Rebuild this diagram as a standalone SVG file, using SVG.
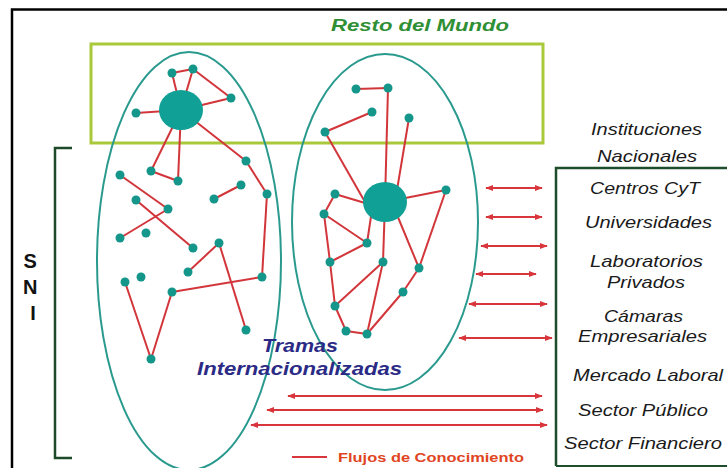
<svg xmlns="http://www.w3.org/2000/svg" width="727" height="468" viewBox="0 0 727 468">
<defs>
<marker id="ah" viewBox="0 0 10 10" refX="9" refY="5" markerWidth="4" markerHeight="4" orient="auto-start-reverse">
<path d="M0,1 L10,5 L0,9 z" fill="#d8363c"/>
</marker>
<style>
.edge{stroke:#d2363b;stroke-width:2;fill:none}
.dot{fill:#14968a}
.hub{fill:#11a096}
.flow{stroke:#d8363c;stroke-width:2;fill:none;marker-start:url(#ah);marker-end:url(#ah)}
.lbl{font-family:"Liberation Sans",Arial,sans-serif;font-style:italic;font-size:17px;fill:#1a1a1a;text-anchor:start}
.ell{fill:none;stroke:#2a9a8e;stroke-width:2}
</style>
</defs>
<rect width="727" height="468" fill="#fff"/>
<!-- frame -->
<path d="M12,468 V9.5 H727" fill="none" stroke="#000" stroke-width="2.5"/>

<g id="resto-del-mundo">
<rect x="91" y="44" width="452" height="99" fill="none" stroke="#a9c93a" stroke-width="3"/>
<text x="331" y="31" font-family="Liberation Sans, Arial, sans-serif" font-size="16" font-weight="bold" font-style="italic" fill="#2f8f34" textLength="178" lengthAdjust="spacingAndGlyphs">Resto del Mundo</text>
</g>

<g id="sni">
<path d="M72,148 H55 V458 H72" fill="none" stroke="#1f4a2a" stroke-width="2.5"/>
<text font-family="Liberation Sans, Arial, sans-serif" font-size="20" font-weight="bold" fill="#111" text-anchor="middle">
<tspan x="33" y="268">S</tspan>
<tspan x="33" y="294">N</tspan>
<tspan x="33" y="320">I</tspan>
</text>
</g>

<g id="trama-1">
<ellipse class="ell" cx="189" cy="261" rx="92" ry="209"/>
</g>
<g id="trama-2">
<ellipse class="ell" cx="385" cy="222" rx="93" ry="168"/>
</g>

<g id="connectors">
<!-- left network -->
<line class="edge" x1="172" y1="73" x2="193" y2="69"/>
<line class="edge" x1="172" y1="73" x2="181" y2="110"/>
<line class="edge" x1="136" y1="113" x2="181" y2="110"/>
<line class="edge" x1="193" y1="69" x2="181" y2="110"/>
<line class="edge" x1="193" y1="69" x2="231" y2="98"/>
<line class="edge" x1="231" y1="98" x2="181" y2="110"/>
<line class="edge" x1="181" y1="110" x2="151" y2="171"/>
<line class="edge" x1="151" y1="171" x2="178" y2="181"/>
<line class="edge" x1="178" y1="181" x2="181" y2="110"/>
<line class="edge" x1="181" y1="110" x2="246" y2="161"/>
<line class="edge" x1="246" y1="161" x2="267" y2="194"/>
<line class="edge" x1="267" y1="194" x2="262" y2="277"/>
<line class="edge" x1="241" y1="185" x2="214" y2="199"/>
<line class="edge" x1="120" y1="175" x2="168" y2="209"/>
<line class="edge" x1="136" y1="200" x2="193" y2="248"/>
<line class="edge" x1="120" y1="238" x2="168" y2="209"/>
<line class="edge" x1="188" y1="272" x2="219" y2="243"/>
<line class="edge" x1="219" y1="243" x2="246" y2="330"/>
<line class="edge" x1="262" y1="277" x2="172" y2="292"/>
<line class="edge" x1="125" y1="282" x2="151" y2="359"/>
<line class="edge" x1="151" y1="359" x2="172" y2="292"/>
<!-- right network -->
<line class="edge" x1="356" y1="89" x2="388" y2="88"/>
<line class="edge" x1="388" y1="88" x2="385" y2="202"/>
<line class="edge" x1="372" y1="112" x2="325" y2="132"/>
<line class="edge" x1="325" y1="132" x2="365" y2="202"/>
<line class="edge" x1="409" y1="118" x2="395" y2="202"/>
<line class="edge" x1="335" y1="194" x2="365" y2="203"/>
<line class="edge" x1="335" y1="194" x2="324" y2="214"/>
<line class="edge" x1="324" y1="214" x2="367" y2="243"/>
<line class="edge" x1="367" y1="243" x2="372" y2="210"/>
<line class="edge" x1="324" y1="214" x2="330" y2="262"/>
<line class="edge" x1="330" y1="262" x2="367" y2="243"/>
<line class="edge" x1="383" y1="262" x2="385" y2="202"/>
<line class="edge" x1="446" y1="190" x2="385" y2="202"/>
<line class="edge" x1="446" y1="190" x2="419" y2="268"/>
<line class="edge" x1="419" y1="268" x2="395" y2="210"/>
<line class="edge" x1="419" y1="268" x2="403" y2="292"/>
<line class="edge" x1="330" y1="262" x2="335" y2="306"/>
<line class="edge" x1="335" y1="306" x2="383" y2="262"/>
<line class="edge" x1="335" y1="306" x2="346" y2="331"/>
<line class="edge" x1="346" y1="331" x2="367" y2="334"/>
<line class="edge" x1="367" y1="334" x2="383" y2="262"/>
<line class="edge" x1="367" y1="334" x2="403" y2="292"/>
<!-- flows -->
<line class="flow" x1="486" y1="188" x2="542" y2="188"/>
<line class="flow" x1="486" y1="217" x2="542" y2="217"/>
<line class="flow" x1="481" y1="246" x2="547" y2="246"/>
<line class="flow" x1="476" y1="274" x2="536" y2="274"/>
<line class="flow" x1="469" y1="304" x2="547" y2="304"/>
<line class="flow" x1="459" y1="338" x2="552" y2="338"/>
<line class="flow" x1="288" y1="396" x2="542" y2="396"/>
<line class="flow" x1="267" y1="410" x2="543" y2="410"/>
<line class="flow" x1="251" y1="425" x2="547" y2="425"/>
</g>

<g id="nodes-left">
<ellipse id="hub-left" class="hub" cx="181" cy="110" rx="22" ry="20"/>
<circle class="dot" cx="172" cy="73" r="4.5"/>
<circle class="dot" cx="193" cy="69" r="4.5"/>
<circle class="dot" cx="231" cy="98" r="4.5"/>
<circle class="dot" cx="136" cy="113" r="4.5"/>
<circle class="dot" cx="151" cy="171" r="4.5"/>
<circle class="dot" cx="178" cy="181" r="4.5"/>
<circle class="dot" cx="246" cy="161" r="4.5"/>
<circle class="dot" cx="120" cy="175" r="4.5"/>
<circle class="dot" cx="241" cy="185" r="4.5"/>
<circle class="dot" cx="267" cy="194" r="4.5"/>
<circle class="dot" cx="214" cy="199" r="4.5"/>
<circle class="dot" cx="136" cy="200" r="4.5"/>
<circle class="dot" cx="168" cy="209" r="4.5"/>
<circle class="dot" cx="193" cy="248" r="4.5"/>
<circle class="dot" cx="120" cy="238" r="4.5"/>
<circle class="dot" cx="146" cy="233" r="4.5"/>
<circle class="dot" cx="219" cy="243" r="4.5"/>
<circle class="dot" cx="188" cy="272" r="4.5"/>
<circle class="dot" cx="246" cy="330" r="4.5"/>
<circle class="dot" cx="262" cy="277" r="4.5"/>
<circle class="dot" cx="172" cy="292" r="4.5"/>
<circle class="dot" cx="125" cy="282" r="4.5"/>
<circle class="dot" cx="141" cy="277" r="4.5"/>
<circle class="dot" cx="151" cy="359" r="4.5"/>
</g>

<g id="nodes-right">
<ellipse id="hub-right" class="hub" cx="385" cy="202" rx="22" ry="20"/>
<circle class="dot" cx="356" cy="89" r="4.5"/>
<circle class="dot" cx="388" cy="88" r="4.5"/>
<circle class="dot" cx="372" cy="112" r="4.5"/>
<circle class="dot" cx="325" cy="132" r="4.5"/>
<circle class="dot" cx="409" cy="118" r="4.5"/>
<circle class="dot" cx="335" cy="194" r="4.5"/>
<circle class="dot" cx="446" cy="190" r="4.5"/>
<circle class="dot" cx="324" cy="214" r="4.5"/>
<circle class="dot" cx="367" cy="243" r="4.5"/>
<circle class="dot" cx="330" cy="262" r="4.5"/>
<circle class="dot" cx="383" cy="262" r="4.5"/>
<circle class="dot" cx="419" cy="268" r="4.5"/>
<circle class="dot" cx="403" cy="292" r="4.5"/>
<circle class="dot" cx="335" cy="306" r="4.5"/>
<circle class="dot" cx="346" cy="331" r="4.5"/>
<circle class="dot" cx="367" cy="334" r="4.5"/>
</g>

<g id="tramas-label">
<text font-family="Liberation Sans, Arial, sans-serif" font-size="18" font-weight="bold" font-style="italic" fill="#2b2b86">
<tspan x="262" y="352" textLength="76" lengthAdjust="spacingAndGlyphs">Tramas</tspan>
<tspan x="197" y="375" textLength="205" lengthAdjust="spacingAndGlyphs">Internacionalizadas</tspan>
</text>
</g>

<g id="instituciones-nacionales">
<text class="lbl" x="591" y="135" textLength="111" lengthAdjust="spacingAndGlyphs">Instituciones</text>
<text class="lbl" x="597" y="162" textLength="100" lengthAdjust="spacingAndGlyphs">Nacionales</text>
</g>

<g id="box-instituciones">
<path d="M556,466 V168 H730" fill="none" stroke="#1e4d2b" stroke-width="2.5"/>
<path d="M556,466 H727" fill="none" stroke="#1e4d2b" stroke-width="2"/>
<text class="lbl" x="590" y="194" textLength="110" lengthAdjust="spacingAndGlyphs">Centros CyT</text>
<text class="lbl" x="585" y="228" textLength="127" lengthAdjust="spacingAndGlyphs">Universidades</text>
<text class="lbl" x="590" y="267" textLength="113" lengthAdjust="spacingAndGlyphs">Laboratorios</text>
<text class="lbl" x="607" y="288" textLength="78" lengthAdjust="spacingAndGlyphs">Privados</text>
<text class="lbl" x="604" y="322" textLength="79" lengthAdjust="spacingAndGlyphs">Cámaras</text>
<text class="lbl" x="578" y="342" textLength="129" lengthAdjust="spacingAndGlyphs">Empresariales</text>
<text class="lbl" x="573" y="381" textLength="150" lengthAdjust="spacingAndGlyphs">Mercado Laboral</text>
<text class="lbl" x="578" y="416" textLength="130" lengthAdjust="spacingAndGlyphs">Sector Público</text>
<text class="lbl" x="564" y="449" textLength="158" lengthAdjust="spacingAndGlyphs">Sector Financiero</text>
</g>

<g id="legend">
<line x1="292" y1="457" x2="327" y2="457" stroke="#d8363c" stroke-width="2"/>
<text x="338" y="462" font-family="Liberation Sans, Arial, sans-serif" font-size="12" font-weight="bold" fill="#e0451f" textLength="186" lengthAdjust="spacingAndGlyphs">Flujos de Conocimiento</text>
</g>
</svg>
